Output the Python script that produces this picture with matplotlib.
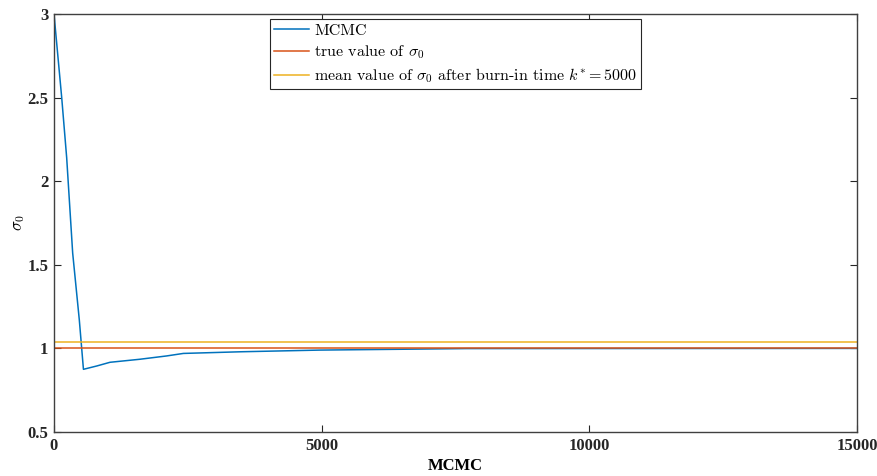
import matplotlib
matplotlib.use("Agg")
import matplotlib.pyplot as plt

# MCMC trace of sigma_0
iters = [0, 144, 237, 349, 473, 550, 800, 1046, 1600, 2105, 2416, 3500, 4969, 6500, 7700, 15000]
sigma0 = [3.0, 2.5, 2.14, 1.57, 1.17, 0.875, 0.895, 0.917, 0.935, 0.955, 0.97, 0.98, 0.99, 0.995, 0.999, 1.0]
true_sigma0 = 1.0
mean_sigma0 = 1.036
burn_in = 5000

x_ticks = [0, 5000, 10000, 15000]
y_ticks = [0.5, 1, 1.5, 2, 2.5, 3]

plt.rcParams["mathtext.fontset"] = "cm"

fig = plt.figure(figsize=(8.78, 4.76), dpi=100)
ax = fig.add_axes([0.0615, 0.0924, 0.9145, 0.8782])

ax.plot(iters, sigma0, color="#0072BD", lw=1.1, label="MCMC")
ax.plot([0, 15000], [true_sigma0] * 2, color="#D95319", lw=1.1,
        label=r"true value of $\sigma_0$")
ax.plot([0, 15000], [mean_sigma0] * 2, color="#EDB120", lw=1.1,
        label=r"mean value of $\sigma_0$ after burn-in time $k^{*}=%d$" % burn_in)

ax.set_xlim(0, 15000)
ax.set_ylim(0.5, 3)
ax.set_xticks(x_ticks)
ax.set_yticks(y_ticks)
ax.set_yticklabels([("%g" % v) for v in y_ticks])

tick_font = dict(family="Liberation Serif", weight="bold", size=12)
for lab in ax.get_xticklabels() + ax.get_yticklabels():
    lab.set_fontproperties(matplotlib.font_manager.FontProperties(**tick_font))

ax.tick_params(direction="in", top=True, right=True, length=5, width=0.8,
               colors="#262626", pad=4)
for sp in ax.spines.values():
    sp.set_color("#404040")
    sp.set_linewidth(1.0)

ax.set_xlabel("MCMC", family="Liberation Serif", weight="bold", size=12, labelpad=3)
ax.set_ylabel(r"$\sigma_0$", size=12, labelpad=0)

leg = ax.legend(loc="upper center", bbox_to_anchor=(0.5, 0.987),
                prop=dict(family="cmr10", size=11.5), handlelength=2.2,
                handletextpad=0.3, borderpad=0.25, labelspacing=0.35,
                fancybox=False, framealpha=1, edgecolor="#262626",
                borderaxespad=0)
leg.get_frame().set_linewidth(0.8)

fig.savefig("out.png", dpi=100)
